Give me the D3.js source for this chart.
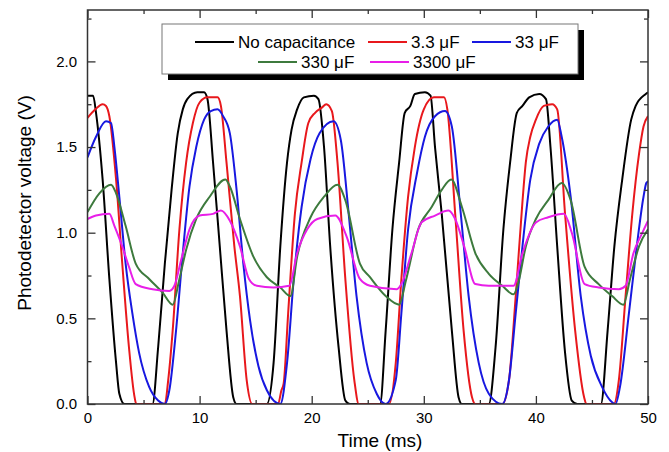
<!DOCTYPE html>
<html lang="en">

<head>
    <meta charset="UTF-8">
    <title>Photodetector voltage</title>
    <style>
        body { margin: 0; background: #fff; }
        text { font-family: 'Liberation Sans', Arial, sans-serif; fill: #000; }
    </style>
</head>

<body>
    <script src="https://d3js.org/d3.v7.min.js"></script>
    <script>
        // Readings taken off the scope traces, [time (ms), voltage (V)].
        const noCap = [
            [0, 1.80], [0.5, 1.80], [0.76, 1.70], [1.35, 1.31], [1.95, 0.73], [2.55, 0.24], [2.84, 0.06], [3.3, 0],
            [5.8, 0], [6.3, 0.33], [6.9, 0.82], [7.5, 1.25], [8.05, 1.58], [8.5, 1.72], [8.9, 1.78], [9.8, 1.82],
            [10.4, 1.82], [10.7, 1.78], [11.2, 1.41], [11.8, 0.92], [12.4, 0.43], [13.0, 0.04], [13.3, 0],
            [16.0, 0], [16.6, 0.24], [17.2, 0.92], [17.8, 1.41], [18.2, 1.60], [18.7, 1.72], [19.3, 1.79], [20.2, 1.80],
            [20.6, 1.78], [21.1, 1.50], [21.65, 0.92], [22.4, 0.33], [23.0, 0.02], [23.4, 0],
            [26.1, 0], [26.6, 0.43], [27.2, 1.02], [27.8, 1.41], [28.3, 1.70], [28.8, 1.74], [29.2, 1.81], [30.1, 1.82],
            [30.6, 1.80], [31.0, 1.50], [31.6, 1.11], [32.5, 0.43], [33.1, 0.04], [33.4, 0],
            [35.8, 0], [36.4, 0.33], [37.1, 1.02], [37.7, 1.41], [38.3, 1.70], [38.8, 1.74], [39.4, 1.79], [40.3, 1.81],
            [40.9, 1.78], [41.3, 1.50], [41.9, 0.92], [42.6, 0.30], [43.2, 0.02], [43.7, 0],
            [45.8, 0], [46.4, 0.43], [47.0, 0.92], [47.7, 1.31], [48.5, 1.66], [48.9, 1.74], [49.8, 1.81], [50, 1.82]
        ];
        const cap3u3 = [
            [0, 1.67], [0.7, 1.72], [1.35, 1.75], [1.65, 1.74], [1.95, 1.68], [2.55, 1.31], [3.1, 0.82], [3.7, 0.33],
            [4.2, 0.04], [4.35, 0], [6.9, 0], [7.2, 0.14], [7.6, 0.43], [8.2, 1.02], [8.8, 1.41], [9.4, 1.64],
            [10.0, 1.76], [10.7, 1.79], [11.6, 1.79], [11.9, 1.74], [12.4, 1.41], [13.1, 0.92], [13.6, 0.63],
            [14.2, 0.14], [14.7, 0], [17.0, 0], [17.3, 0.08], [17.5, 0.12], [17.9, 0.53], [18.5, 1.11], [19.1, 1.41],
            [19.7, 1.64], [20.3, 1.70], [20.9, 1.73], [21.3, 1.75], [21.8, 1.71], [22.3, 1.41], [23.0, 0.73],
            [23.8, 0.14], [24.2, 0], [26.9, 0], [27.5, 0.24], [28.0, 0.73], [28.6, 1.21], [29.2, 1.50], [30.0, 1.72],
            [30.9, 1.79], [31.8, 1.79], [32.1, 1.72], [32.8, 1.11], [33.55, 0.43], [34.3, 0.04], [34.6, 0],
            [37.0, 0], [37.6, 0.14], [38.2, 0.63], [38.8, 1.18], [39.1, 1.41], [39.5, 1.56], [40.0, 1.66],
            [40.7, 1.74], [41.45, 1.75], [41.9, 1.72], [42.6, 1.11], [43.5, 0.43], [44.3, 0.04], [44.5, 0],
            [46.95, 0], [47.4, 0.14], [48.0, 0.63], [48.6, 1.11], [49.2, 1.46], [49.6, 1.62], [50, 1.68]
        ];
        const cap33u = [
            [0, 1.44], [0.76, 1.56], [1.65, 1.65], [2.1, 1.64], [2.4, 1.50], [2.84, 1.21], [3.4, 0.82], [4.0, 0.53],
            [4.6, 0.30], [5.5, 0.10], [6.3, 0.02], [6.9, 0], [7.3, 0.08], [7.9, 0.43], [8.5, 0.88], [9.1, 1.27],
            [9.7, 1.50], [10.4, 1.66], [11.0, 1.71], [11.6, 1.72], [12.1, 1.68], [12.7, 1.58], [13.3, 1.25],
            [13.9, 0.82], [14.5, 0.49], [15.25, 0.22], [16.0, 0.08], [17.2, 0], [17.8, 0.24], [18.4, 0.73],
            [19.1, 1.15], [19.9, 1.43], [20.7, 1.58], [21.95, 1.65], [22.6, 1.54], [23.3, 1.11], [24.0, 0.63],
            [24.9, 0.24], [25.8, 0.06], [26.6, 0], [27.5, 0.14], [28.0, 0.53], [28.6, 1.02], [29.4, 1.35],
            [30.1, 1.56], [31.0, 1.68], [31.9, 1.71], [32.5, 1.62], [33.3, 1.11], [34.0, 0.63], [34.9, 0.24],
            [35.8, 0.06], [37.0, 0], [37.6, 0.14], [38.2, 0.53], [38.8, 0.92], [39.5, 1.31], [40.3, 1.52],
            [41.1, 1.62], [41.9, 1.66], [42.3, 1.56], [43.1, 1.21], [44.0, 0.63], [44.9, 0.28], [45.9, 0.10],
            [46.8, 0.01], [47.1, 0], [47.5, 0.10], [48.3, 0.53], [49.0, 0.92], [49.6, 1.21], [49.85, 1.29], [50, 1.30]
        ];
        const cap330u = [
            [0, 1.12], [1.06, 1.23], [2.1, 1.28], [2.55, 1.23], [3.4, 1.04], [4.3, 0.82], [5.5, 0.73], [6.7, 0.65],
            [7.6, 0.58], [8.2, 0.73], [8.8, 0.90], [9.7, 1.08], [10.9, 1.21], [12.3, 1.31], [12.7, 1.27],
            [13.6, 1.08], [14.8, 0.86], [16.0, 0.74], [17.2, 0.68], [18.1, 0.63], [18.7, 0.86], [19.9, 1.09],
            [21.1, 1.21], [22.3, 1.28], [23.0, 1.19], [24.3, 0.82], [25.2, 0.74], [26.6, 0.63], [27.8, 0.58],
            [28.4, 0.72], [29.5, 1.02], [30.7, 1.15], [31.6, 1.25], [32.45, 1.31], [33.4, 1.15], [34.6, 0.88],
            [35.8, 0.76], [37.0, 0.69], [38.0, 0.64], [38.4, 0.70], [39.1, 0.92], [40.0, 1.08], [41.1, 1.19],
            [42.3, 1.29], [43.1, 1.19], [44.35, 0.80], [45.6, 0.70], [46.8, 0.63], [47.8, 0.58], [48.4, 0.73],
            [49.2, 0.92], [50, 1.02]
        ];
        const cap3300u = [
            [0, 1.08], [0.76, 1.10], [1.95, 1.11], [2.4, 1.04], [3.1, 0.92], [3.7, 0.80], [4.3, 0.70], [5.8, 0.67],
            [7.3, 0.66], [7.75, 0.69], [8.35, 0.84], [9.1, 1.02], [10.0, 1.10], [11.2, 1.11], [11.9, 1.13],
            [12.7, 1.07], [13.6, 0.92], [14.4, 0.73], [15.1, 0.69], [16.6, 0.68], [18.0, 0.69], [18.7, 0.88],
            [19.6, 1.02], [20.5, 1.08], [22.1, 1.10], [23.1, 0.98], [24.3, 0.73], [25.2, 0.69], [27.6, 0.67],
            [28.0, 0.70], [28.9, 0.88], [29.8, 1.06], [31.0, 1.10], [32.2, 1.13], [32.8, 1.08], [33.6, 0.92],
            [34.6, 0.70], [35.8, 0.69], [38.0, 0.69], [38.8, 0.88], [40.0, 1.06], [41.1, 1.09], [42.5, 1.11],
            [43.2, 1.00], [44.35, 0.70], [45.6, 0.68], [47.4, 0.67], [48.0, 0.69], [48.7, 0.88], [49.5, 1.00],
            [50, 1.07]
        ];

        const seriesNames = ['No capacitance', '3.3 \u03bcF', '33 \u03bcF', '330 \u03bcF', '3300 \u03bcF'];
        const seriesData = [noCap, cap3u3, cap33u, cap330u, cap3300u];
        const seriesColors = ['#000000', '#e8181c', '#1818e0', '#3d7a3d', '#e81ee8'];

        const xTicks = [0, 10, 20, 30, 40, 50];
        const xMinorTicks = [5, 15, 25, 35, 45];
        const yTicks = [0, 0.5, 1.0, 1.5, 2.0];
        const yMinorTicks = [0.25, 0.75, 1.25, 1.75, 2.25];

        const WIDTH = 669;
        const HEIGHT = 452;
        const margin = { top: 10, right: 21, bottom: 48, left: 87.5 };
        const chartWidth = WIDTH - margin.left - margin.right;
        const chartHeight = HEIGHT - margin.top - margin.bottom;

        const svg = d3.select('body')
            .append('svg')
            .attr('width', WIDTH)
            .attr('height', HEIGHT);

        const chart = svg.append('g')
            .attr('transform', `translate(${margin.left}, ${margin.top})`);

        const xScale = d3.scaleLinear().domain([0, 50]).range([0, chartWidth]);
        const yScale = d3.scaleLinear().domain([0, 2.3]).range([chartHeight, 0]);

        chart.append('clipPath')
            .attr('id', 'plot-clip')
            .append('rect')
            .attr('width', chartWidth)
            .attr('height', chartHeight);

        // Curves.
        const line = d3.line()
            .x(d => xScale(d[0]))
            .y(d => yScale(d[1]))
            .curve(d3.curveMonotoneX);

        chart.append('g')
            .attr('clip-path', 'url(#plot-clip)')
            .selectAll('path')
            .data(seriesData)
            .enter()
            .append('path')
            .attr('d', line)
            .attr('fill', 'none')
            .attr('stroke', (d, i) => seriesColors[i])
            .attr('stroke-width', 2)
            .attr('stroke-linejoin', 'round');

        // Axes, ticks pointing inward on all four sides.
        const styleAxis = function (g) {
            g.select('.domain').remove();
            g.selectAll('line').attr('stroke', '#333').attr('stroke-width', 1.3);
            g.selectAll('text')
                .style('font-family', "'Liberation Sans', Arial, sans-serif")
                .style('font-size', '15px')
                .attr('fill', '#000');
        };

        chart.append('g')
            .attr('transform', `translate(0, ${chartHeight})`)
            .call(d3.axisBottom(xScale).tickValues(xTicks).tickSize(-8).tickPadding(8).tickFormat(d3.format('d')))
            .call(styleAxis);
        chart.append('g')
            .attr('transform', `translate(0, ${chartHeight})`)
            .call(d3.axisBottom(xScale).tickValues(xMinorTicks).tickSize(-4).tickFormat(''))
            .call(styleAxis);
        chart.append('g')
            .call(d3.axisTop(xScale).tickValues(xTicks).tickSize(-8).tickFormat(''))
            .call(styleAxis);
        chart.append('g')
            .call(d3.axisTop(xScale).tickValues(xMinorTicks).tickSize(-4).tickFormat(''))
            .call(styleAxis);

        chart.append('g')
            .call(d3.axisLeft(yScale).tickValues(yTicks).tickSize(-8).tickPadding(10.5).tickFormat(d3.format('.1f')))
            .call(styleAxis);
        chart.append('g')
            .call(d3.axisLeft(yScale).tickValues(yMinorTicks).tickSize(-4).tickFormat(''))
            .call(styleAxis);
        chart.append('g')
            .attr('transform', `translate(${chartWidth}, 0)`)
            .call(d3.axisRight(yScale).tickValues(yTicks).tickSize(-8).tickFormat(''))
            .call(styleAxis);
        chart.append('g')
            .attr('transform', `translate(${chartWidth}, 0)`)
            .call(d3.axisRight(yScale).tickValues(yMinorTicks).tickSize(-4).tickFormat(''))
            .call(styleAxis);

        // Frame.
        chart.append('rect')
            .attr('width', chartWidth)
            .attr('height', chartHeight)
            .attr('fill', 'none')
            .attr('stroke', '#333')
            .attr('stroke-width', 1.5);

        // Axis titles.
        svg.append('text')
            .attr('x', 380)
            .attr('y', 447)
            .attr('text-anchor', 'middle')
            .style('font-size', '19px')
            .text('Time (ms)');

        svg.append('text')
            .attr('transform', 'translate(31, 203) rotate(-90)')
            .attr('text-anchor', 'middle')
            .style('font-size', '19px')
            .text('Photodetector voltage (V)');

        // Legend with drop shadow.
        const legend = svg.append('g');
        legend.append('rect')
            .attr('x', 168).attr('y', 30)
            .attr('width', 416).attr('height', 50)
            .attr('fill', '#000');
        legend.append('rect')
            .attr('x', 162).attr('y', 24)
            .attr('width', 416).attr('height', 50)
            .attr('fill', '#fff')
            .attr('stroke', '#777')
            .attr('stroke-width', 1);

        const legendItems = [
            { x: 195, y: 42 }, { x: 368, y: 42 }, { x: 472, y: 42 },
            { x: 258, y: 62 }, { x: 370, y: 62 }
        ];

        const entries = legend.selectAll('g.entry')
            .data(seriesNames)
            .enter()
            .append('g')
            .attr('class', 'entry')
            .attr('transform', (d, i) => `translate(${legendItems[i].x}, ${legendItems[i].y})`);

        entries.append('line')
            .attr('x1', 0).attr('x2', 39)
            .attr('y1', 0).attr('y2', 0)
            .attr('stroke', (d, i) => seriesColors[i])
            .attr('stroke-width', 2);

        entries.append('text')
            .attr('x', 43)
            .attr('y', 6)
            .style('font-size', '17px')
            .text(d => d);
    </script>
</body>

</html>
